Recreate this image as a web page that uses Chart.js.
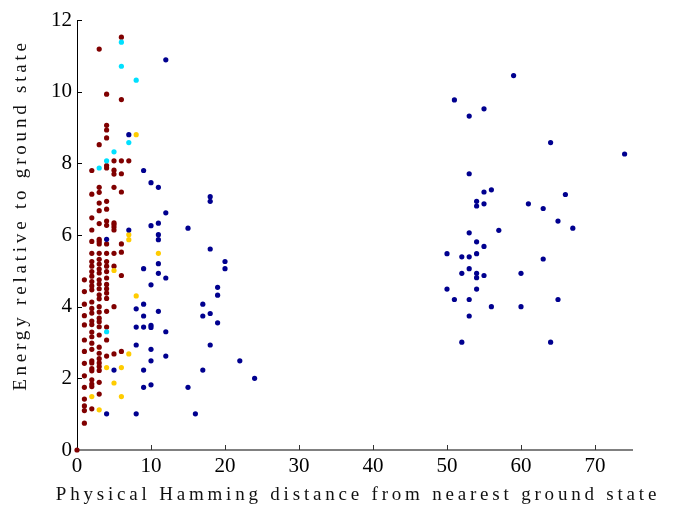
<!DOCTYPE html>
<html>
<head>
<meta charset="utf-8">
<script src="https://cdn.jsdelivr.net/npm/chart.js@4"></script>
<style>
  html, body { margin: 0; padding: 0; background: #fff; }
  #wrap { width: 682px; height: 507px; }
</style>
</head>
<body>
<div id="wrap"><canvas id="chartScatter" width="682" height="507"></canvas></div>
<script>
// data (x = Hamming distance, y = energy)
const redX = [0,
  1,1,1,1,1,1,1,1,1,1,1,1,1,1,
  2,2,2,2,2,2,2,2,2,2,2,2,2,2,2,2,2,2,2,2,2,2,2,2,2,2,2,2,2,2,
  3,3,3,3,3,3,3,3,3,3,3,3,3,3,3,3,3,3,3,3,3,3,3,3,3,3,3,3,3,3,3,3,3,3,
  4,4,4,4,4,4,4,4,4,4,4,4,4,4,4,4,4,4,4,4,4,4,4,4,
  5,5,5,5,5,5,5,5,5,5,5,5,
  6,6,6,6,6,6,6,6,6,
  7];
const redY = [0,
  4.75,4.42,4.07,3.75,3.49,3.07,2.75,2.42,2.07,1.75,1.42,1.23,1.10,0.75,
  7.80,7.14,6.48,6.14,5.82,5.49,5.26,5.13,4.98,4.85,4.70,4.58,4.47,4.13,3.95,3.82,3.60,3.50,3.29,3.16,2.98,2.81,2.49,2.43,2.27,2.21,1.96,1.84,1.77,1.15,
  11.19,8.52,7.33,7.19,6.89,6.68,6.32,5.88,5.82,5.75,5.49,5.32,5.19,5.05,4.94,4.75,4.63,4.50,4.33,4.22,4.00,3.85,3.68,3.58,3.44,3.21,2.87,2.70,2.55,2.43,2.33,2.22,1.89,1.56,
  9.93,9.06,8.93,8.71,7.94,7.87,6.94,6.72,6.39,6.27,5.75,5.49,5.26,5.13,4.98,4.80,4.62,4.50,4.38,4.23,3.87,3.43,3.07,2.62,
  8.07,7.81,7.70,7.33,6.34,6.29,6.22,6.14,5.49,5.13,4.00,2.68,
  11.52,9.78,8.07,7.71,7.20,5.75,5.52,4.87,2.75,
  8.07];

const cyanX = [6, 6, 8, 7, 5, 4, 3, 4];
const cyanY = [11.38, 10.71, 10.32, 8.58, 8.32, 8.07, 7.87, 3.30];

const goldX = [8, 7, 7, 11, 5, 8, 7, 4, 6, 5, 2, 6, 3];
const goldY = [8.80, 6.01, 5.87, 5.49, 5.01, 4.30, 2.68, 2.30, 2.30, 1.87, 1.49, 1.49, 1.12];

const blueX = [12,7,9,10,11,18,18,12,10,11,15,7,11,11,4,18,11,9,20,20,11,12,10,19,19,17,9,8,11,9,17,18,19,8,9,10,10,12,8,18,10,12,22,10,9,17,5,24,10,9,15,8,16,4,
  59,51,55,53,64,74,53,56,55,66,54,54,55,61,63,65,67,53,57,54,55,50,52,53,54,63,53,52,54,54,55,60,50,54,51,53,65,56,60,53,52,64];
const blueY = [10.89,8.80,7.80,7.46,7.33,7.07,6.94,6.62,6.26,6.33,6.19,6.14,6.01,5.87,5.88,5.61,5.20,5.06,5.26,5.06,4.93,4.80,4.61,4.54,4.32,4.07,4.07,3.94,3.87,3.74,3.74,3.81,3.55,3.43,3.43,3.48,3.42,3.30,2.93,2.93,2.81,2.62,2.49,2.49,2.23,2.23,2.23,2.00,1.82,1.75,1.75,1.01,1.01,1.01,
  10.45,9.77,9.52,9.32,8.58,8.26,7.71,7.26,7.20,7.13,6.94,6.81,6.87,6.87,6.74,6.39,6.19,6.06,6.13,5.81,5.68,5.48,5.39,5.39,5.48,5.33,5.06,4.93,4.93,4.81,4.87,4.93,4.49,4.49,4.20,4.20,4.20,4.00,4.00,3.74,3.01,3.01];

const xTicks = [0, 10, 20, 30, 40, 50, 60, 70];
const yTicks = [0, 2, 4, 6, 8, 10, 12];

const xTitle = "Physical Hamming distance from nearest ground state";
const yTitle = "Energy relative to ground state";

function pts(xs, ys) {
  return xs.map((x, i) => ({ x: x, y: ys[i] }));
}

function series(label, xs, ys, color) {
  return {
    label: label,
    data: pts(xs, ys),
    backgroundColor: color,
    borderWidth: 0,
    pointRadius: 2.6,
    pointHoverRadius: 2.6,
  };
}

const serif = "'Liberation Serif', 'DejaVu Serif', serif";
Chart.defaults.font.family = serif;

// inward tick marks, drawn from the scales
const inwardTicks = {
  id: "inwardTicks",
  beforeDatasetsDraw(chart) {
    const ctx = chart.ctx;
    const xs = chart.scales.x;
    const ys = chart.scales.y;
    const area = chart.chartArea;
    ctx.save();
    ctx.lineWidth = 1;
    ctx.strokeStyle = "#333";
    xTicks.forEach((v) => {
      if (v === 0) return;
      const px = Math.round(xs.getPixelForValue(v)) + 0.5;
      ctx.beginPath();
      ctx.moveTo(px, area.bottom);
      ctx.lineTo(px, area.bottom - 5);
      ctx.stroke();
    });
    ctx.strokeStyle = "#000";
    yTicks.forEach((v) => {
      if (v === 0) return;
      const py = Math.round(ys.getPixelForValue(v)) + 0.5;
      ctx.beginPath();
      ctx.moveTo(area.left, py);
      ctx.lineTo(area.left + 5, py);
      ctx.stroke();
    });
    ctx.restore();
  },
};

// spaced-out axis titles (like the LaTeX figure)
const spacedTitles = {
  id: "spacedTitles",
  beforeDraw(chart) {
    Object.values(chart.scales).forEach((sc) => {
      if (sc._spaced) return;
      const orig = sc.drawTitle;
      sc.drawTitle = function () {
        const keep = [this.left, this.right, this.top, this.bottom];
        if (this.isHorizontal()) {
          this.left = 34;
          this.right = 682;
        } else {
          this.top = -20;
          this.bottom = chart.chartArea.bottom;
        }
        chart.ctx.save();
        chart.ctx.letterSpacing = "3.8px";
        orig.call(this);
        chart.ctx.restore();
        [this.left, this.right, this.top, this.bottom] = keep;
      };
      sc._spaced = true;
    });
  },
};

new Chart(document.getElementById("chartScatter"), {
  type: "scatter",
  data: {
    datasets: [
      series("blue", blueX, blueY, "#00008f"),
      series("gold", goldX, goldY, "#ffcc00"),
      series("cyan", cyanX, cyanY, "#00e0ff"),
      series("red", redX, redY, "#800000"),
    ],
  },
  options: {
    responsive: false,
    animation: false,
    clip: false,
    layout: { padding: { top: 20, right: 50, left: 0, bottom: 0 } },
    plugins: {
      legend: { display: false },
      tooltip: { enabled: false },
    },
    scales: {
      x: {
        type: "linear",
        min: 0,
        max: 75,
        afterFit: (s) => { s.height = 57; },
        afterBuildTicks: (s) => { s.ticks = xTicks.map((v) => ({ value: v })); },
        grid: { display: true, drawOnChartArea: false, drawTicks: false },
        border: { display: true, color: "#808080", width: 2 },
        ticks: {
          padding: 4,
          color: "#000",
          font: { family: serif, size: 21 },
          maxRotation: 0,
        },
        title: {
          display: true,
          text: xTitle,
          color: "#111",
          font: { family: serif, size: 19 },
          padding: { top: 0, bottom: 1 },
        },
      },
      y: {
        type: "linear",
        min: 0,
        max: 12,
        afterFit: (s) => { s.width = 77; },
        afterBuildTicks: (s) => { s.ticks = yTicks.map((v) => ({ value: v })); },
        grid: { display: true, drawOnChartArea: false, drawTicks: false },
        border: { display: true, color: "#000", width: 1 },
        ticks: {
          padding: 5,
          color: "#000",
          font: { family: serif, size: 21 },
        },
        title: {
          display: true,
          text: yTitle,
          color: "#111",
          font: { family: serif, size: 19 },
          padding: { top: 10, bottom: 0 },
        },
      },
    },
  },
  plugins: [inwardTicks, spacedTitles],
});
</script>
</body>
</html>
